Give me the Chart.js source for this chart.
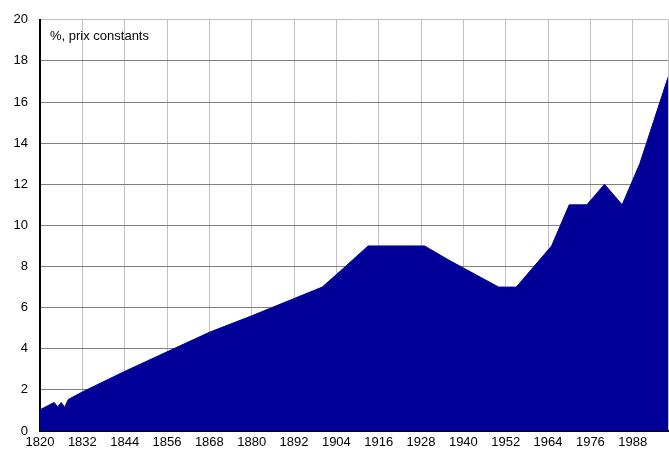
<!DOCTYPE html>
<html>
<head>
<meta charset="utf-8">
<script src="https://cdn.jsdelivr.net/npm/chart.js@4/dist/chart.umd.min.js"></script>
<style>
  html, body { margin: 0; padding: 0; background: #ffffff; }
  #wrap { width: 669px; height: 451px; position: relative; }
</style>
</head>
<body>
<div id="wrap"><canvas id="c" width="669" height="451"></canvas></div>
<script>
const years = [1820, 1824, 1825, 1826, 1827, 1828, 1832, 1844, 1856, 1868, 1880, 1892, 1900, 1905, 1913, 1929, 1936, 1950, 1955, 1965, 1970, 1975, 1980, 1985, 1990, 1998];
const share = [1.03, 1.39, 1.17, 1.39, 1.15, 1.53, 1.9, 2.9, 3.85, 4.8, 5.6, 6.44, 7.0, 7.76, 9.0, 9.0, 8.3, 7.0, 7.0, 9.0, 11.0, 11.0, 12.0, 11.0, 13.0, 17.2];
const xTickLabels = [1820, 1832, 1844, 1856, 1868, 1880, 1892, 1904, 1916, 1928, 1940, 1952, 1964, 1976, 1988];
const yTickLabels = [0, 2, 4, 6, 8, 10, 12, 14, 16, 18, 20];
const unitNote = '%, prix constants';

const FONT = 'Liberation Sans, Arial, sans-serif';

const notePlugin = {
  id: 'note',
  afterDraw(chart) {
    const ctx = chart.ctx;
    const a = chart.chartArea;
    ctx.save();
    ctx.font = '13px ' + FONT;
    ctx.fillStyle = '#000000';
    ctx.textAlign = 'left';
    ctx.textBaseline = 'alphabetic';
    ctx.fillText(unitNote, a.left + 10, a.top + 20);
    ctx.restore();
  }
};

new Chart(document.getElementById('c'), {
  type: 'line',
  data: {
    datasets: [{
      data: years.map((y, i) => ({ x: y, y: share[i] })),
      fill: 'origin',
      backgroundColor: '#000099',
      borderColor: '#000099',
      borderWidth: 1,
      pointRadius: 0,
      tension: 0
    }]
  },
  options: {
    responsive: false,
    animation: false,
    layout: { padding: { top: 17, right: 1, left: 0, bottom: 0 } },
    plugins: { legend: { display: false }, tooltip: { enabled: false } },
    scales: {
      x: {
        type: 'linear',
        min: years[0],
        max: years[years.length - 1],
        afterBuildTicks(scale) {
          const t = xTickLabels.map(v => ({ value: v }));
          t.push({ value: years[years.length - 1] });
          scale.ticks = t;
        },
        afterFit(scale) { scale.height = 20; scale.paddingRight = 0; scale.paddingLeft = 0; },
        ticks: {
          autoSkip: false,
          maxRotation: 0,
          padding: 4,
          color: '#000000',
          font: { family: FONT, size: 13 },
          callback: v => xTickLabels.includes(v) ? String(v) : ''
        },
        grid: { color: '#c0c0c0', lineWidth: 1, drawTicks: false },
        border: { display: true, color: '#000000', width: 2 }
      },
      y: {
        min: 0,
        max: 20,
        afterBuildTicks(scale) {
          scale.ticks = yTickLabels.map(v => ({ value: v }));
        },
        afterFit(scale) { scale.width = 40; },
        ticks: {
          padding: 12,
          color: '#000000',
          font: { family: FONT, size: 13 },
          callback: v => String(v)
        },
        grid: {
          color: ctx => (ctx.tick && ctx.tick.value === 20) ? '#c0c0c0' : '#808080',
          lineWidth: 1,
          drawTicks: false
        },
        border: { display: true, color: '#000000', width: 2 }
      }
    }
  },
  plugins: [notePlugin]
});
</script>
</body>
</html>
